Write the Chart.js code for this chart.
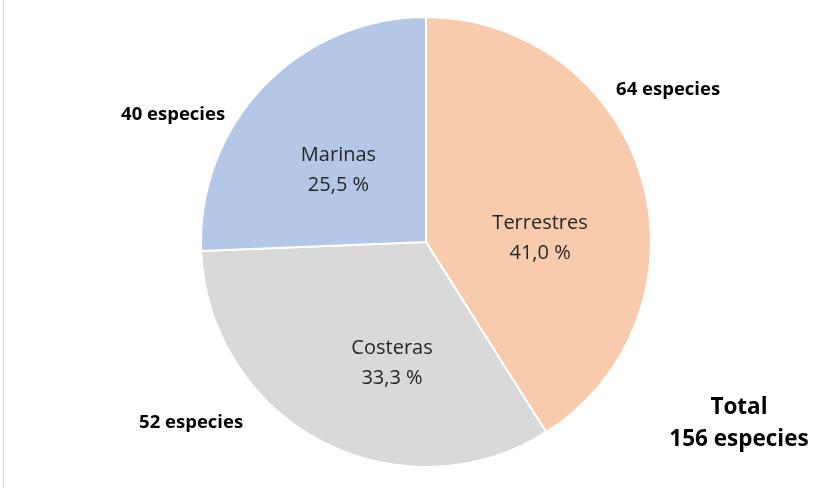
<!DOCTYPE html>
<html>
<head>
<meta charset="utf-8">
<script src="https://cdn.jsdelivr.net/npm/chart.js@4"></script>
<style>
    html, body { margin: 0; padding: 0; background: #fff; }
    #wrap { width: 838px; height: 488px; position: relative; }
</style>
</head>
<body>
<div id="wrap"><canvas id="pieChart" width="838" height="488"></canvas></div>
<script>
// --- Data ---
const categories = ['Terrestres', 'Costeras', 'Marinas'];
const speciesCount = [64, 52, 40];
const percentLabels = ['41,0 %', '33,3 %', '25,5 %'];
const countLabels = ['64 especies', '52 especies', '40 especies'];
const totalLabel = ['Total', '156 especies'];

const COLORS = ['#F8CBAD', '#D9D9D9', '#B4C7E7'];
const FONT = "'Open Sans', 'Liberation Sans', sans-serif";

// label anchors as fractions of the radius, relative to the pie centre
const innerPos = [[0.507, -0.018], [-0.151, 0.538], [-0.389, -0.32]];
const outerPos = [[1.076, -0.676], [-1.044, 0.804], [-1.124, -0.564]];
const totalPos = [[1.391, 0.738], [1.391, 0.88]];

// --- Label plugin ---
const labelPlugin = {
    id: 'pieLabels',
    afterDraw(chart) {
        const ctx = chart.ctx;
        const arcs = chart.getDatasetMeta(0).data;
        const cx = arcs[0].x, cy = arcs[0].y, r = arcs[0].outerRadius;

        ctx.save();
        // thin frame line on the left
        ctx.strokeStyle = '#D9D9D9';
        ctx.lineWidth = 1;
        ctx.beginPath();
        ctx.moveTo(3.5, 0);
        ctx.lineTo(3.5, chart.height);
        ctx.stroke();

        ctx.textAlign = 'center';
        ctx.textBaseline = 'middle';

        categories.forEach((cat, i) => {
            const [fx, fy] = innerPos[i];
            ctx.fillStyle = '#262626';
            ctx.font = `20px ${FONT}`;
            ctx.fillText(cat, cx + fx * r, cy + fy * r - 15);
            ctx.fillText(percentLabels[i], cx + fx * r, cy + fy * r + 15);

            const [ox, oy] = outerPos[i];
            ctx.fillStyle = '#000';
            ctx.font = `bold 18.5px ${FONT}`;
            ctx.fillText(countLabels[i], cx + ox * r, cy + oy * r);
        });

        ctx.font = `bold 22.5px ${FONT}`;
        ctx.fillStyle = '#000';
        totalLabel.forEach((t, i) => {
            ctx.fillText(t, cx + totalPos[i][0] * r, cy + totalPos[i][1] * r);
        });
        ctx.restore();
    }
};

new Chart(document.getElementById('pieChart'), {
    type: 'pie',
    data: {
        labels: categories,
        datasets: [{
            data: speciesCount,
            backgroundColor: COLORS,
            borderColor: '#FFFFFF',
            borderWidth: 2
        }]
    },
    options: {
        responsive: false,
        animation: false,
        layout: { padding: { left: 200, right: 186, top: 16, bottom: 20 } },
        plugins: {
            legend: { display: false },
            tooltip: { enabled: false }
        }
    },
    plugins: [labelPlugin]
});
</script>
</body>
</html>
